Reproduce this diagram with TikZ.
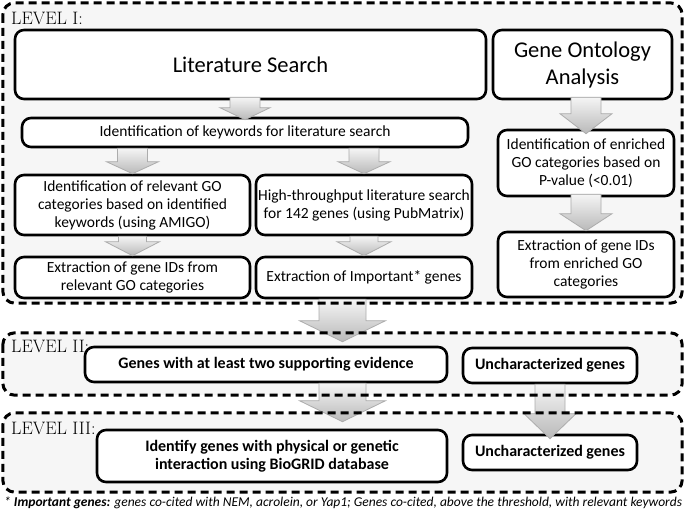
\documentclass[tikz,border=0pt]{standalone}
\usepackage{fontspec}
\usepackage{tikz}
\usetikzlibrary{calc}
\newfontfamily\calfont{Carlito}

% block arrow: from, to, half shaft, half head, head length
\newcommand{\blockarrow}[5]{%
  \draw[fatarrow] let \p1=(#1), \p2=(#2) in
    (\x2-#3pt,\y1) -- (\x2+#3pt,\y1) -- (\x2+#3pt,\y2+#5pt) -- (\x2+#4pt,\y2+#5pt)
    -- (\x2,\y2) -- (\x2-#4pt,\y2+#5pt) -- (\x2-#3pt,\y2+#5pt) -- cycle;}

\begin{document}
\begin{tikzpicture}[x=1pt, y=-1pt]
    % Styles
    \tikzstyle{lvlbox} = [rectangle, rounded corners=12pt, fill=gray!7, inner sep=0pt]
    \tikzstyle{lvlline} = [draw=black, line width=3pt, dash pattern=on 8pt off 5pt, rounded corners=12pt]
    \tikzstyle{proc} = [rectangle, draw=black, line width=2.6pt, rounded corners=9pt, fill=white, align=center, inner sep=2pt, font=\calfont\fontsize{15.5}{18}\selectfont]
    \tikzstyle{bigproc} = [proc, font=\calfont\fontsize{22.5}{27}\selectfont]
    \tikzstyle{result} = [proc, font=\calfont\bfseries\fontsize{16}{18}\selectfont]
    \tikzstyle{lvltext} = [anchor=west, inner sep=0pt, font=\fontsize{18}{20}\selectfont]
    \tikzstyle{fatarrow} = [draw=gray!65, line width=0.8pt, top color=gray!8, bottom color=gray!55]

    \useasboundingbox (0,0) rectangle (685,512);

    % Level areas
    \node[lvlbox, minimum width=679pt, minimum height=300pt] (lvone) at (342.5,153) {};
    \node[lvlbox, minimum width=679pt, minimum height=62pt] (lvtwo) at (342.5,364) {};
    \node[lvlbox, minimum width=679pt, minimum height=79pt] (lvthree) at (342.5,452.5) {};

    % Nodes - level I
    \node[bigproc, minimum width=471pt, minimum height=69pt] (lit) at (250.5,64.5) {Literature Search};
    \node[bigproc, minimum width=179pt, minimum height=69pt] (goa) at (582.5,64.5) {Gene Ontology\\Analysis};
    \node[proc, minimum width=446pt, minimum height=29pt] (kw) at (245,132.5) {Identification of keywords for literature search};
    \node[proc, minimum width=235pt, minimum height=60pt] (relgo) at (132.5,205) {Identification of relevant GO\\categories based on identified\\keywords (using AMIGO)};
    \node[proc, minimum width=216pt, minimum height=60pt] (htp) at (364,205) {High-throughput literature search\\for 142 genes (using PubMatrix)};
    \node[proc, minimum width=235pt, minimum height=41pt] (exgo) at (132.5,277.5) {Extraction of gene IDs from\\relevant GO categories};
    \node[proc, minimum width=216pt, minimum height=41pt] (eximp) at (364,277.5) {Extraction of Important* genes};
    \node[proc, minimum width=176pt, minimum height=66pt] (enr) at (586,163) {Identification of enriched\\GO categories based on\\P-value (<0.01)};
    \node[proc, minimum width=176pt, minimum height=65pt] (exenr) at (586,264.5) {Extraction of gene IDs\\from enriched GO\\categories};

    % Nodes - level II and III
    \node[result, minimum width=362pt, minimum height=35pt] (genes) at (266,364.5) {Genes with at least two supporting evidence};
    \node[result, minimum width=174pt, minimum height=35pt] (unctwo) at (550,365.5) {Uncharacterized genes};
    \node[result, minimum width=350pt, minimum height=52pt] (ident) at (272,456) {Identify genes with physical or genetic\\interaction using BioGRID database};
    \node[result, minimum width=174pt, minimum height=35pt] (uncthree) at (550,452.5) {Uncharacterized genes};

    % Arrows
    \blockarrow{[yshift=3pt]lit.south}{[yshift=-3pt]kw.north}{15}{25}{12}
    \blockarrow{kw.south}{relgo.north}{15}{26}{12}
    \blockarrow{kw.south}{htp.north}{15}{26}{12}
    \blockarrow{[yshift=3pt]goa.south}{[yshift=-5pt]enr.north}{15}{26}{20}
    \blockarrow{[yshift=3pt]enr.south}{exenr.north}{15}{26}{17}
    \blockarrow{relgo.south}{exgo.north}{14}{27}{14}
    \blockarrow{htp.south}{eximp.north}{14}{27}{14}
    \blockarrow{[yshift=4pt]lvone.south}{[yshift=4pt]genes.north -| lvone.south}{23.5}{43}{21}
    \blockarrow{genes.south -| lvone.south}{[yshift=7pt]ident.north -| lvone.south}{23.5}{43}{21}
    \blockarrow{unctwo.south}{[yshift=-5pt]uncthree.north}{15}{26}{25}

    % Dashed level borders
    \draw[lvlline] (lvone.north west) rectangle (lvone.south east);
    \draw[lvlline] (lvtwo.north west) rectangle (lvtwo.south east);
    \draw[lvlline] (lvthree.north west) rectangle (lvthree.south east);

    % Level labels
    \node[lvltext] (lblone) at (11,18.5) {LEVEL I:};
    \node[lvltext] (lbltwo) at (11,346.5) {LEVEL II:};
    \node[lvltext] (lblthree) at (11,428.5) {LEVEL III:};

    % Footnote
    \node[anchor=west, inner sep=0pt, font=\calfont\itshape\fontsize{13.5}{15}\selectfont] (note) at (4,503) {* \textbf{Important genes:} genes co-cited with NEM, acrolein, or Yap1; Genes co-cited, above the threshold, with relevant keywords};
\end{tikzpicture}
\end{document}
